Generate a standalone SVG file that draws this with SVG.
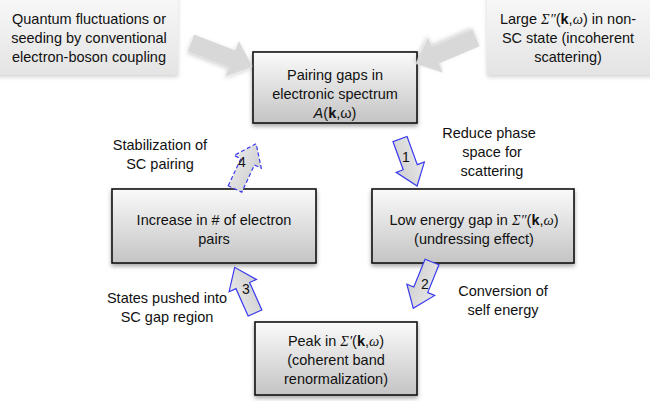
<svg xmlns="http://www.w3.org/2000/svg" width="650" height="401" viewBox="0 0 650 401">
<style>
text{font-family:"Liberation Sans",Arial,sans-serif;font-size:14.5px;fill:#111;text-anchor:middle}
.box{fill:url(#gBox);stroke:#111;stroke-width:1.6}
.note{fill:url(#gNote)}
.big{fill:#d8d8d8}
.blue{fill:url(#gArr);stroke:#3a3af0;stroke-width:1.2}
.dash{stroke-dasharray:4,2.5}
.sig{font-family:"Liberation Serif","Times New Roman",serif;font-style:italic}
.b{font-weight:bold}
.i{font-style:italic}
.num{font-size:14px}
</style>
<defs>
<linearGradient id="gBox" x1="0" y1="0" x2="0" y2="1"><stop offset="0" stop-color="#fafafa"/><stop offset="1" stop-color="#c4c4c4"/></linearGradient>
<linearGradient id="gNote" x1="0" y1="0" x2="0" y2="1"><stop offset="0" stop-color="#f8f8f8"/><stop offset="1" stop-color="#e4e4e4"/></linearGradient>
<linearGradient id="gArr" x1="0" y1="0" x2="0" y2="1"><stop offset="0" stop-color="#e8e8e8"/><stop offset="1" stop-color="#cfcfcf"/></linearGradient>
<filter id="sh" x="-20%" y="-20%" width="140%" height="150%"><feDropShadow dx="0" dy="2.5" stdDeviation="2" flood-color="#000" flood-opacity="0.35"/></filter>
<filter id="shs" x="-20%" y="-20%" width="140%" height="150%"><feDropShadow dx="0" dy="2" stdDeviation="2" flood-color="#000" flood-opacity="0.18"/></filter>
<path id="bigArr" d="M0,-9 L44,-9 L44,-19 L66,0 L44,19 L44,9 L0,9 Z"/>
<path id="smArr" d="M0,-7.5 L30,-7.5 L30,-15 L50,0 L30,15 L30,7.5 L0,7.5 Z"/>
</defs>

<g id="note-left">
<rect class="note" x="-4" y="-4" width="182" height="79" filter="url(#shs)"/>
<text x="89" y="24">Quantum fluctuations or</text>
<text x="89" y="43">seeding by conventional</text>
<text x="89" y="62">electron-boson coupling</text>
</g>

<g id="note-right">
<rect class="note" x="487" y="-4" width="167" height="79" filter="url(#shs)"/>
<text x="568" y="24">Large <tspan class="sig">Σ″</tspan>(<tspan class="b">k</tspan>,<tspan class="sig">ω</tspan>) in non-</text>
<text x="568" y="43">SC state (incoherent</text>
<text x="568" y="62">scattering)</text>
</g>

<g id="pairing-gaps">
<rect class="box" x="253" y="52" width="164" height="71" filter="url(#sh)"/>
<text x="335" y="80">Pairing gaps in</text>
<text x="335" y="99">electronic spectrum</text>
<text x="335" y="118"><tspan class="i">A</tspan>(<tspan class="b">k</tspan>,ω)</text>
</g>

<g id="electron-pairs">
<rect class="box" x="112" y="189" width="204" height="74" filter="url(#sh)"/>
<text x="214" y="225">Increase in # of electron</text>
<text x="214" y="244">pairs</text>
</g>

<g id="low-energy-gap">
<rect class="box" x="372" y="189" width="202" height="74" filter="url(#sh)"/>
<text x="474" y="225">Low energy gap in <tspan class="sig">Σ″</tspan>(<tspan class="b">k</tspan>,<tspan class="sig">ω</tspan>)</text>
<text x="474" y="244">(undressing effect)</text>
</g>

<g id="peak">
<rect class="box" x="255" y="322" width="162" height="73" filter="url(#sh)"/>
<text x="336" y="346">Peak in <tspan class="sig">Σ′</tspan>(<tspan class="b">k</tspan>,<tspan class="sig">ω</tspan>)</text>
<text x="336" y="365">(coherent band</text>
<text x="336" y="384">renormalization)</text>
</g>

<g id="connectors">
<use href="#bigArr" class="big" transform="translate(191,43) rotate(21)" filter="url(#shs)"/>
<use href="#bigArr" class="big" transform="translate(476,38) rotate(157)" filter="url(#shs)"/>
<use href="#smArr" class="blue" transform="translate(400,139) rotate(70)"/>
<use href="#smArr" class="blue" transform="translate(432,262) rotate(112)"/>
<use href="#smArr" class="blue" transform="translate(255,313) rotate(-114)"/>
<use href="#smArr" class="blue dash" transform="translate(235,189) rotate(-65)"/>
<text class="num" x="406" y="162">1</text>
<text class="num" x="425" y="289">2</text>
<text class="num" x="246" y="294">3</text>
<text class="num" x="242" y="167">4</text>
<text x="489" y="138">Reduce phase</text>
<text x="492" y="157">space for</text>
<text x="492" y="176">scattering</text>
<text x="160" y="150">Stabilization of</text>
<text x="160" y="169">SC pairing</text>
<text x="167" y="303">States pushed into</text>
<text x="167" y="322">SC gap region</text>
<text x="503" y="296">Conversion of</text>
<text x="503" y="315">self energy</text>
</g>
</svg>
